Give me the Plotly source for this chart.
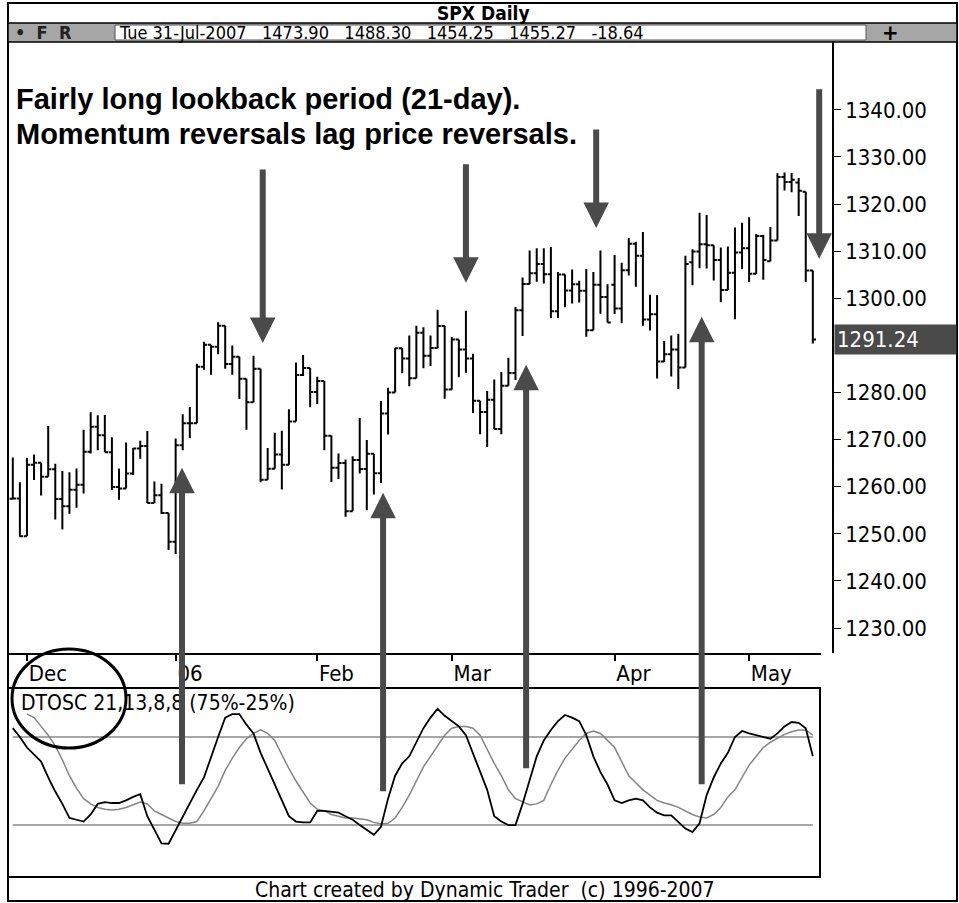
import plotly.graph_objects as go

# SPX daily bars, 29-Nov-2005 .. 12-May-2006 (trading days)
dates = [
    "11-29", "11-30",
    "12-01", "12-02", "12-05", "12-06", "12-07", "12-08", "12-09", "12-12", "12-13", "12-14",
    "12-15", "12-16", "12-19", "12-20", "12-21", "12-22", "12-23", "12-27", "12-28", "12-29", "12-30",
    "01-03", "01-04", "01-05", "01-06", "01-09", "01-10", "01-11", "01-12", "01-13", "01-17",
    "01-18", "01-19", "01-20", "01-23", "01-24", "01-25", "01-26", "01-27", "01-30", "01-31",
    "02-01", "02-02", "02-03", "02-06", "02-07", "02-08", "02-09", "02-10", "02-13", "02-14",
    "02-15", "02-16", "02-17", "02-21", "02-22", "02-23", "02-24", "02-27", "02-28",
    "03-01", "03-02", "03-03", "03-06", "03-07", "03-08", "03-09", "03-10", "03-13", "03-14",
    "03-15", "03-16", "03-17", "03-20", "03-21", "03-22", "03-23", "03-24", "03-27", "03-28",
    "03-29", "03-30", "03-31",
    "04-03", "04-04", "04-05", "04-06", "04-07", "04-10", "04-11", "04-12", "04-13", "04-17",
    "04-18", "04-19", "04-20", "04-21", "04-24", "04-25", "04-26", "04-27", "04-28",
    "05-01", "05-02", "05-03", "05-04", "05-05", "05-08", "05-09", "05-10", "05-11", "05-12",
]

opens = [
    1257.46, 1257.48,
    1249.48, 1264.67, 1265.08, 1262.09, 1263.70, 1257.37, 1255.84, 1259.37, 1260.43, 1267.43,
    1272.74, 1270.94, 1267.32, 1259.92, 1259.62, 1262.79, 1268.12, 1268.66, 1256.54, 1258.17, 1254.42,
    1248.29, 1268.80, 1273.46, 1273.48, 1285.45, 1290.15, 1289.69, 1294.18, 1286.06, 1287.61,
    1282.93, 1277.93, 1285.04, 1261.49, 1263.82, 1266.86, 1264.68, 1273.83, 1283.72, 1285.20,
    1280.08, 1282.46, 1270.84, 1264.03, 1265.02, 1254.78, 1265.65, 1263.78, 1266.99, 1262.86,
    1275.53, 1280.00, 1289.38, 1287.24, 1283.03, 1292.67, 1287.79, 1289.43, 1294.12,
    1280.66, 1291.24, 1289.14, 1287.23, 1278.26, 1275.88, 1278.47, 1272.23, 1281.42, 1284.13,
    1297.48, 1303.02, 1305.33, 1307.25, 1305.08, 1297.23, 1305.04, 1301.67, 1302.95, 1301.61,
    1293.23, 1302.89, 1300.25,
    1302.88, 1297.81, 1305.93, 1311.56, 1309.04, 1295.51, 1296.60, 1286.57, 1288.12, 1289.12,
    1285.33, 1307.65, 1309.93, 1311.46, 1311.28, 1308.11, 1301.74, 1305.41, 1309.72,
    1310.61, 1305.19, 1313.21, 1307.85, 1312.25, 1325.76, 1324.66, 1324.57, 1322.63, 1305.88,
]

highs = [
    1266.18, 1260.93,
    1266.17, 1266.85, 1265.08, 1272.89, 1264.85, 1263.36, 1263.08, 1263.86, 1272.11, 1275.80,
    1275.17, 1275.24, 1270.51, 1263.86, 1269.37, 1268.19, 1269.76, 1271.83, 1261.10, 1260.61, 1254.42,
    1270.22, 1275.37, 1276.91, 1286.09, 1290.78, 1290.15, 1294.90, 1294.18, 1289.99, 1287.61,
    1282.93, 1287.79, 1285.04, 1268.19, 1271.47, 1271.87, 1276.44, 1286.38, 1287.94, 1285.20,
    1283.33, 1282.46, 1270.87, 1267.04, 1265.78, 1266.47, 1274.56, 1269.89, 1266.99, 1278.21,
    1281.00, 1289.39, 1289.47, 1292.11, 1294.17, 1293.84, 1292.11, 1297.57, 1294.12,
    1291.80, 1291.24, 1297.33, 1288.22, 1278.26, 1280.33, 1282.74, 1284.37, 1287.37, 1298.14,
    1304.40, 1310.15, 1310.64, 1310.64, 1310.88, 1305.60, 1305.04, 1306.10, 1303.74, 1306.24,
    1305.60, 1310.15, 1303.00,
    1309.19, 1307.55, 1312.81, 1311.99, 1314.07, 1300.74, 1300.71, 1290.93, 1292.09, 1292.45,
    1309.02, 1310.39, 1318.16, 1317.67, 1311.28, 1310.79, 1310.97, 1315.00, 1316.04,
    1317.21, 1313.66, 1313.47, 1315.14, 1326.53, 1326.70, 1326.60, 1325.51, 1322.63, 1305.88,
]

lows = [
    1257.46, 1249.39,
    1249.48, 1261.42, 1258.12, 1262.09, 1253.02, 1250.91, 1254.24, 1255.52, 1258.56, 1267.07,
    1267.74, 1267.32, 1259.28, 1257.21, 1259.62, 1262.50, 1265.92, 1256.54, 1256.54, 1254.18, 1246.59,
    1245.74, 1267.74, 1270.30, 1273.48, 1284.82, 1283.76, 1288.12, 1285.04, 1283.76, 1278.61,
    1272.08, 1277.93, 1260.92, 1261.48, 1263.82, 1259.42, 1264.68, 1273.83, 1283.51, 1276.85,
    1277.57, 1267.72, 1261.02, 1261.62, 1253.61, 1254.78, 1262.80, 1254.98, 1258.34, 1260.80,
    1271.06, 1280.00, 1284.07, 1281.35, 1283.03, 1285.14, 1285.62, 1289.43, 1278.66,
    1280.66, 1283.22, 1284.20, 1275.67, 1271.11, 1268.42, 1272.23, 1271.11, 1281.42, 1282.67,
    1291.97, 1303.02, 1303.52, 1303.14, 1295.82, 1295.81, 1298.11, 1298.89, 1299.09, 1291.84,
    1293.23, 1296.72, 1294.87,
    1296.65, 1294.71, 1304.82, 1302.44, 1294.18, 1293.17, 1282.96, 1286.45, 1283.37, 1280.74,
    1285.33, 1302.79, 1306.38, 1306.32, 1303.79, 1299.17, 1301.74, 1295.57, 1306.16,
    1303.46, 1305.19, 1303.92, 1307.85, 1312.25, 1322.87, 1322.48, 1317.44, 1303.45, 1290.38,
]

closes = [
    1257.48, 1249.48,
    1264.67, 1265.08, 1262.09, 1263.70, 1257.37, 1255.84, 1259.37, 1260.43, 1267.43, 1272.74,
    1270.94, 1267.32, 1259.92, 1259.62, 1262.79, 1268.12, 1268.66, 1256.54, 1258.17, 1254.42, 1248.29,
    1268.80, 1273.46, 1273.48, 1285.45, 1290.15, 1289.69, 1294.18, 1286.06, 1287.61, 1282.93,
    1277.93, 1285.04, 1261.49, 1263.82, 1266.86, 1264.68, 1273.83, 1283.72, 1285.19, 1280.08,
    1282.46, 1270.84, 1264.03, 1265.02, 1254.78, 1265.65, 1263.78, 1266.99, 1262.86, 1275.53,
    1280.00, 1289.38, 1287.24, 1283.03, 1292.67, 1287.79, 1289.43, 1294.12, 1280.66,
    1291.24, 1289.14, 1287.23, 1278.26, 1275.88, 1278.47, 1272.23, 1281.42, 1284.13, 1297.48,
    1303.02, 1305.33, 1307.25, 1305.08, 1297.23, 1305.04, 1301.67, 1302.95, 1301.61, 1293.23,
    1302.89, 1300.25, 1294.87,
    1297.81, 1305.93, 1311.56, 1309.04, 1295.50, 1296.62, 1286.57, 1288.12, 1289.12, 1285.33,
    1307.28, 1309.93, 1311.46, 1311.28, 1308.11, 1301.74, 1305.41, 1309.72, 1310.61,
    1305.19, 1313.21, 1308.12, 1312.25, 1325.76, 1324.66, 1325.14, 1322.85, 1305.92, 1291.24,
]

# DTOSC 21,13,8,8 : fast (black) and slow (gray) lines
dtosc_fast = [
    80, 75,
    69, 65, 61, 52, 44, 37, 29, 28, 27, 31, 37, 38, 37.5, 37.5, 39, 41, 42.5, 30, 22, 14.6, 14.4,
    22, 30, 38, 45, 52, 64, 75, 86, 88, 88, 82, 77, 66, 57, 48, 40, 30, 27, 26.5, 26.5,
    33, 33, 32.5, 32, 30, 28, 25, 22, 19.5, 24, 40, 53, 60, 64, 72, 80, 86, 91, 87,
    84, 81, 76, 66, 55, 45, 30, 27, 25, 25, 37, 51, 64, 73, 79, 84, 87.5, 86, 84, 76, 64, 55, 48,
    39, 37.5, 39, 40, 39, 35, 32, 30.5, 30.5, 27, 23, 21, 26, 42, 52, 60, 66, 75, 78.4,
    77, 76, 75, 74, 77, 81, 83.5, 83, 80, 64,
]
dtosc_slow = [
    None, None,
    88, 86, 81, 76, 70, 62, 53, 46, 40, 37, 35, 34, 33.5, 34, 35, 36.5, 38, 37, 33, 31, 29,
    27, 26, 26, 27, 33, 40, 47, 56, 63, 69, 74, 77, 79, 77, 73, 65, 57, 50, 44, 37.5,
    34, 33, 31, 30, 29, 29, 28.5, 28, 26.5, 25.6, 26, 29, 35, 42, 50, 58, 64, 70, 76,
    80, 81, 81, 80, 76, 68, 60, 53, 45, 40, 38, 36.4, 37, 39, 48, 56, 63, 68, 73, 77, 78.4, 77, 73,
    69, 61, 53, 49, 45, 42, 39, 37.5, 36.5, 35, 33, 31, 29.5, 29, 31, 35, 41, 45, 52,
    59, 64, 69, 72, 74.4, 76.5, 78, 79, 79, 76,
]
osc_levels = [75, 25]

month_ticks = [2, 23, 43, 62, 85, 104]
month_labels = ["Dec", "06", "Feb", "Mar", "Apr", "May"]
# 1290 is hidden behind the last-price tag
price_ticks = [1230, 1240, 1250, 1260, 1270, 1280, 1300, 1310, 1320, 1330, 1340]

# arrows: (bar position, price at the tip)
down_arrows = [(35.3, 1290.5), (64.0, 1303.3), (82.4, 1314.9), (113.9, 1308.4)]
down_len = [175, 120, 100, 171]
up_arrows = [(23.9, 1264.0), (52.3, 1258.7), (72.5, 1285.9), (97.3, 1296.1)]
up_len = [318, 300, 405, 469]

W, H = 959, 903
idx = list(range(len(dates)))
FONT = "DejaVu Sans Condensed, DejaVu Sans, sans-serif"
ARROW = "#4a4a4a"


def px(x):
    return x / W


def py(y):
    return 1 - y / H


fig = go.Figure()

fig.add_trace(go.Ohlc(
    x=idx, open=opens, high=highs, low=lows, close=closes,
    increasing=dict(line=dict(color="black", width=2)),
    decreasing=dict(line=dict(color="black", width=2)),
    tickwidth=0.45, xaxis="x", yaxis="y", showlegend=False, hoverinfo="skip",
))
fig.add_trace(go.Scatter(x=idx, y=dtosc_slow, mode="lines", xaxis="x2", yaxis="y2",
                         line=dict(color="#858585", width=1.5), showlegend=False))
fig.add_trace(go.Scatter(x=idx, y=dtosc_fast, mode="lines", xaxis="x2", yaxis="y2",
                         line=dict(color="black", width=1.8), showlegend=False))

shapes = [
    # outer frame, title bar, toolbar
    dict(type="rect", xref="paper", yref="paper", x0=px(8), x1=px(957), y0=py(901), y1=py(3),
         line=dict(color="black", width=2)),
    dict(type="rect", xref="paper", yref="paper", x0=px(8), x1=px(957), y0=py(42), y1=py(23),
         fillcolor="#a6a6a6", line=dict(color="black", width=1.5)),
    dict(type="rect", xref="paper", yref="paper", x0=px(115), x1=px(866), y0=py(40), y1=py(25),
         fillcolor="white", line=dict(color="#555", width=1)),
    # oscillator box
    dict(type="rect", xref="paper", yref="paper", x0=px(8), x1=px(820), y0=py(877), y1=py(688),
         line=dict(color="black", width=2)),
    # circle around the oscillator settings
    dict(type="circle", xref="paper", yref="paper", x0=px(12), x1=px(126), y0=py(748), y1=py(649),
         line=dict(color="black", width=3)),
]
for lv in osc_levels:
    shapes.append(dict(type="line", xref="x2", yref="y2", x0=idx[0], x1=idx[-1], y0=lv, y1=lv,
                       line=dict(color="#8a8a8a", width=1.5), layer="below"))

ann = [
    dict(text="<b>SPX Daily</b>", x=px(483), y=py(13), font=dict(size=19)),
    dict(text="<b>•  F  R</b>", x=px(14), y=py(32), xanchor="left", font=dict(size=18, color="#222")),
    dict(text="Tue 31-Jul-2007   1473.90   1488.30   1454.25   1455.27   -18.64", x=px(118), y=py(32),
         xanchor="left", font=dict(size=18)),
    dict(text="<b>+</b>", x=px(890), y=py(32), font=dict(size=22)),
    dict(text="<b>Fairly long lookback period (21-day).</b>", x=px(15), y=py(99), xanchor="left",
         font=dict(size=29, family="Liberation Sans, Arial, sans-serif")),
    dict(text="<b>Momentum reversals lag price reversals.</b>", x=px(15), y=py(134), xanchor="left",
         font=dict(size=29, family="Liberation Sans, Arial, sans-serif")),
    dict(text="DTOSC 21,13,8,8 (75%-25%)", x=px(20), y=py(703), xanchor="left", font=dict(size=21)),
    dict(text="Chart created by Dynamic Trader  (c) 1996-2007", x=px(485), y=py(890), font=dict(size=21)),
]
for a in ann:
    a.update(xref="paper", yref="paper", showarrow=False, yanchor="middle", borderpad=0)
    a.setdefault("xanchor", "center")
    a["font"].setdefault("family", FONT)
    a["font"].setdefault("color", "black")

# last price tag
ann.append(dict(text=f"{closes[-1]:.2f}", xref="paper", yref="y", x=px(834), y=closes[-1],
                xanchor="left", yanchor="middle", showarrow=False, bgcolor="#4a4a4a", width=117,
                align="left", borderpad=2, font=dict(family=FONT, size=22, color="white")))

for (bx, tip), ln in zip(down_arrows, down_len):
    ann.append(dict(x=bx, y=tip, xref="x", yref="y", ax=0, ay=-ln, text="", showarrow=True,
                    arrowhead=2, arrowwidth=6, arrowsize=0.85, arrowcolor=ARROW))
for (bx, tip), ln in zip(up_arrows, up_len):
    ann.append(dict(x=bx, y=tip, xref="x", yref="y", ax=0, ay=ln, text="", showarrow=True,
                    arrowhead=2, arrowwidth=6, arrowsize=0.85, arrowcolor=ARROW))

xr = [(8 - 12.8) / 7.08, (821 - 12.8) / 7.08]
fig.update_layout(
    width=W, height=H, margin=dict(l=0, r=0, t=0, b=0),
    paper_bgcolor="white", plot_bgcolor="white", showlegend=False,
    font=dict(family=FONT, color="black"),
    xaxis=dict(domain=[px(8), px(821)], range=xr, anchor="y", rangeslider=dict(visible=False),
               showgrid=False, zeroline=False, showline=True, linecolor="black", linewidth=2,
               tickmode="array", tickvals=month_ticks, ticktext=month_labels,
               ticks="outside", ticklen=6, tickwidth=1.5, tickcolor="black",
               ticklabelposition="outside right", tickfont=dict(size=22)),
    yaxis=dict(domain=[py(653), py(42)], range=[1224.7, 1354.4], side="right", anchor="free",
               position=px(833), showgrid=False, zeroline=False, showline=True, linecolor="black",
               linewidth=1.5, tickmode="array", tickvals=price_ticks, tickformat=".2f",
               ticks="outside", ticklen=7, tickcolor="black", tickfont=dict(size=22)),
    xaxis2=dict(domain=[px(8), px(821)], range=xr, anchor="y2", visible=False),
    yaxis2=dict(domain=[py(877), py(688)], range=[-4.5, 102.8], anchor="x2", visible=False),
    shapes=shapes, annotations=ann,
)

fig.write_html("out.html", config={"displayModeBar": False},
               post_script="document.body.style.margin='0';")
